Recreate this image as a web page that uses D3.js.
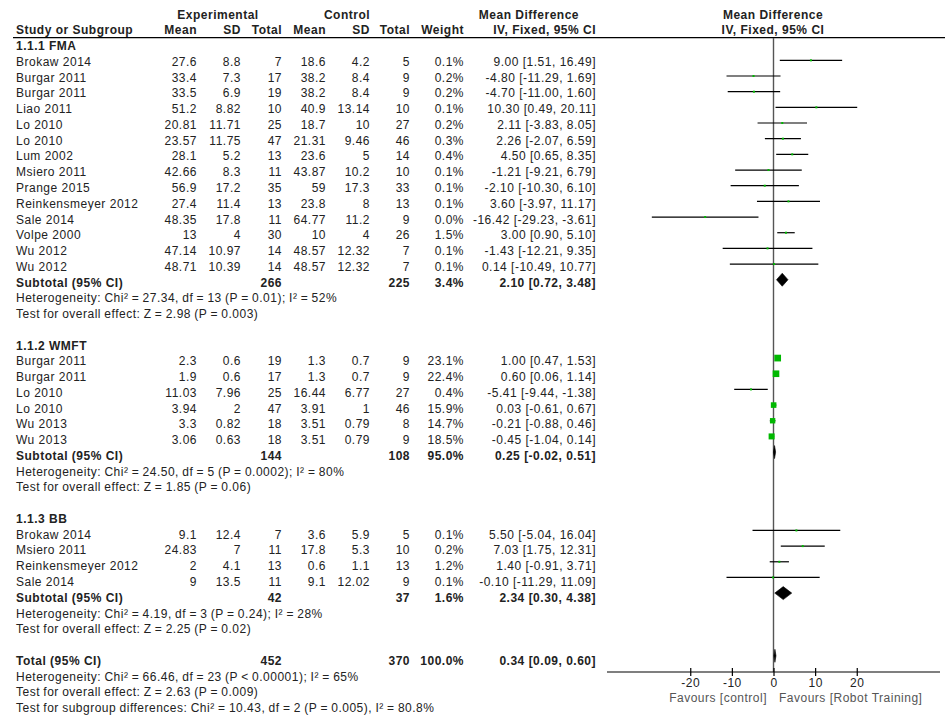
<!DOCTYPE html>
<html>
<head>
<meta charset="utf-8">
<script src="https://cdn.jsdelivr.net/npm/d3@7"></script>
<style>
  html, body { margin: 0; padding: 0; background: #fff; }
  svg text { font-family: "Liberation Sans", Arial, sans-serif; font-size: 12px; letter-spacing: 0.5px; fill: #222; }
  .b { font-weight: bold; }
  .n { word-spacing: -0.5px; }
</style>
</head>
<body>
<svg id="chart" width="945" height="717"></svg>
<script>
// ---------------- DATA ----------------
const groupNames = ["1.1.1 FMA", "1.1.2 WMFT", "1.1.3 BB"];
const studyGroup = [0,0,0,0,0,0,0,0,0,0,0,0,0,0, 1,1,1,1,1,1, 2,2,2,2];
const studyNames = ["Brokaw 2014","Burgar 2011","Burgar 2011","Liao 2011","Lo 2010","Lo 2010","Lum 2002","Msiero 2011","Prange 2015","Reinkensmeyer 2012","Sale 2014","Volpe 2000","Wu 2012","Wu 2012",
  "Burgar 2011","Burgar 2011","Lo 2010","Lo 2010","Wu 2013","Wu 2013",
  "Brokaw 2014","Msiero 2011","Reinkensmeyer 2012","Sale 2014"];
const expMean = [27.6,33.4,33.5,51.2,20.81,23.57,28.1,42.66,56.9,27.4,48.35,13,47.14,48.71, 2.3,1.9,11.03,3.94,3.3,3.06, 9.1,24.83,2,9];
const expSD   = [8.8,7.3,6.9,8.82,11.71,11.75,5.2,8.3,17.2,11.4,17.8,4,10.97,10.39, 0.6,0.6,7.96,2,0.82,0.63, 12.4,7,4.1,13.5];
const expN    = [7,17,19,10,25,47,13,11,35,13,11,30,14,14, 19,17,25,47,18,18, 7,11,13,11];
const ctlMean = [18.6,38.2,38.2,40.9,18.7,21.31,23.6,43.87,59,23.8,64.77,10,48.57,48.57, 1.3,1.3,16.44,3.91,3.51,3.51, 3.6,17.8,0.6,9.1];
const ctlSD   = [4.2,8.4,8.4,13.14,10,9.46,5,10.2,17.3,8,11.2,4,12.32,12.32, 0.7,0.7,6.77,1,0.79,0.79, 5.9,5.3,1.1,12.02];
const ctlN    = [5,9,9,10,27,46,14,10,33,13,9,26,7,7, 9,9,27,46,8,9, 5,10,13,9];
const weight  = [0.1,0.2,0.2,0.1,0.2,0.3,0.4,0.1,0.1,0.1,0.0,1.5,0.1,0.1, 23.1,22.4,0.4,15.9,14.7,18.5, 0.1,0.2,1.2,0.1];
const md      = [9.00,-4.80,-4.70,10.30,2.11,2.26,4.50,-1.21,-2.10,3.60,-16.42,3.00,-1.43,0.14, 1.00,0.60,-5.41,0.03,-0.21,-0.45, 5.50,7.03,1.40,-0.10];
const ciLow   = [1.51,-11.29,-11.00,0.49,-3.83,-2.07,0.65,-9.21,-10.30,-3.97,-29.23,0.90,-12.21,-10.49, 0.47,0.06,-9.44,-0.61,-0.88,-1.04, -5.04,1.75,-0.91,-11.29];
const ciHigh  = [16.49,1.69,1.60,20.11,8.05,6.59,8.35,6.79,6.10,11.17,-3.61,5.10,9.35,10.77, 1.53,1.14,-1.38,0.67,0.46,0.14, 16.04,12.31,3.71,11.09];

const subExpN   = [266,144,42];
const subCtlN   = [225,108,37];
const subWeight = [3.4,95.0,1.6];
const subMD     = [2.10,0.25,2.34];
const subLow    = [0.72,-0.02,0.30];
const subHigh   = [3.48,0.51,4.38];
const subHet    = ["Heterogeneity: Chi\u00b2 = 27.34, df = 13 (P = 0.01); I\u00b2 = 52%",
                   "Heterogeneity: Chi\u00b2 = 24.50, df = 5 (P = 0.0002); I\u00b2 = 80%",
                   "Heterogeneity: Chi\u00b2 = 4.19, df = 3 (P = 0.24); I\u00b2 = 28%"];
const subTest   = ["Test for overall effect: Z = 2.98 (P = 0.003)",
                   "Test for overall effect: Z = 1.85 (P = 0.06)",
                   "Test for overall effect: Z = 2.25 (P = 0.02)"];

const totalExpN = 452, totalCtlN = 370, totalWeight = 100.0;
const totalMD = 0.34, totalLow = 0.09, totalHigh = 0.60;
const totalNotes = ["Heterogeneity: Chi\u00b2 = 66.46, df = 23 (P < 0.00001); I\u00b2 = 65%",
                    "Test for overall effect: Z = 2.63 (P = 0.009)",
                    "Test for subgroup differences: Chi\u00b2 = 10.43, df = 2 (P = 0.005), I\u00b2 = 80.8%"];

const axisTicks = [-20, -10, 0, 10, 20];
const favLeft = "Favours [control]", favRight = "Favours [Robot Training]";

// ---------------- LAYOUT ----------------
const svg = d3.select("#chart");
svg.append("rect").attr("width", 945).attr("height", 717).attr("fill", "#fff");

const x = d3.scaleLinear().domain([-40, 40]).range([607, 940]);
const yText = d3.scaleLinear().domain([0, 1]).range([30.2, 30.2 + 15.76]);
const yMark = d3.scaleLinear().domain([0, 1]).range([29.0, 29.0 + 15.67]);

const col = { name: 16, eMean: 197, eSD: 241, eN: 282, cMean: 326, cSD: 370, cN: 410, w: 464, ci: 596 };
const fmt2 = d3.format(".2f");
const fmtCI = (m, l, h) => fmt2(m).replace("\u2212","-") + " [" + fmt2(l).replace("\u2212","-") + ", " + fmt2(h).replace("\u2212","-") + "]";
const fmtW = w => w.toFixed(1) + "%";

// build rows
const rows = [];
let k = 1;
groupNames.forEach((g, gi) => {
  rows.push({ k: k++, type: "group", label: g });
  studyNames.forEach((s, i) => {
    if (studyGroup[i] !== gi) return;
    rows.push({ k: k++, type: "study", i });
  });
  rows.push({ k: k++, type: "sub", gi });
  rows.push({ k: k++, type: "note", label: subHet[gi] });
  rows.push({ k: k++, type: "note", label: subTest[gi] });
  k++; // blank
});
rows.push({ k: k++, type: "total" });
totalNotes.forEach(t => rows.push({ k: k++, type: "note", label: t }));

function txt(xp, k, s, anchor, cls) {
  return svg.append("text").attr("x", xp).attr("y", yText(k)).attr("dy", "0.35em")
    .attr("text-anchor", anchor || "start").attr("class", cls || null).text(s);
}

// headers
txt(218, -1, "Experimental", "middle", "b");
txt(347, -1, "Control", "middle", "b");
txt(579, -1, "Mean Difference", "end", "b");
txt(773, -1, "Mean Difference", "middle", "b");
txt(col.name, 0, "Study or Subgroup", "start", "b");
txt(col.eMean, 0, "Mean", "end", "b");
txt(col.eSD, 0, "SD", "end", "b");
txt(col.eN, 0, "Total", "end", "b");
txt(col.cMean, 0, "Mean", "end", "b");
txt(col.cSD, 0, "SD", "end", "b");
txt(col.cN, 0, "Total", "end", "b");
txt(col.w, 0, "Weight", "end", "b");
txt(col.ci, 0, "IV, Fixed, 95% CI", "end", "b");
txt(773, 0, "IV, Fixed, 95% CI", "middle", "b");

svg.append("line").attr("x1", 13).attr("x2", 945).attr("y1", 37.7).attr("y2", 37.7)
  .attr("stroke", "#000").attr("stroke-width", 1.2);

// zero line
svg.append("line").attr("x1", x(0)).attr("x2", x(0)).attr("y1", 38).attr("y2", 672)
  .attr("stroke", "#555").attr("stroke-width", 1.4);

const plot = svg.append("g");

function diamond(k, m, l, h) {
  const yc = yMark(k), hh = 6.5;
  plot.append("path")
    .attr("d", `M${x(l)},${yc} L${x(m)},${yc - hh} L${x(h)},${yc} L${x(m)},${yc + hh} Z`)
    .attr("fill", "#000").attr("stroke", "#000").attr("stroke-width", 0.6);
}

rows.forEach(r => {
  if (r.type === "group") {
    txt(col.name, r.k, r.label, "start", "b");
  } else if (r.type === "study") {
    const i = r.i;
    txt(col.name, r.k, studyNames[i]);
    txt(col.eMean, r.k, String(expMean[i]), "end");
    txt(col.eSD, r.k, String(expSD[i]), "end");
    txt(col.eN, r.k, String(expN[i]), "end");
    txt(col.cMean, r.k, String(ctlMean[i]), "end");
    txt(col.cSD, r.k, String(ctlSD[i]), "end");
    txt(col.cN, r.k, String(ctlN[i]), "end");
    txt(col.w, r.k, fmtW(weight[i]), "end");
    txt(col.ci, r.k, fmtCI(md[i], ciLow[i], ciHigh[i]), "end");
    const yc = yMark(r.k);
    plot.append("line").attr("x1", x(ciLow[i])).attr("x2", x(ciHigh[i]))
      .attr("y1", yc).attr("y2", yc).attr("stroke", "#000").attr("stroke-width", 1.2);
    const s = Math.max(2, 1.4 * Math.sqrt(weight[i]));
    plot.append("rect").attr("x", x(md[i]) - s / 2).attr("y", yc - s / 2)
      .attr("width", s).attr("height", s).attr("fill", "#00b800");
  } else if (r.type === "sub") {
    const g = r.gi;
    txt(col.name, r.k, "Subtotal (95% CI)", "start", "b");
    txt(col.eN, r.k, String(subExpN[g]), "end", "b");
    txt(col.cN, r.k, String(subCtlN[g]), "end", "b");
    txt(col.w, r.k, fmtW(subWeight[g]), "end", "b");
    txt(col.ci, r.k, fmtCI(subMD[g], subLow[g], subHigh[g]), "end", "b");
    diamond(r.k, subMD[g], subLow[g], subHigh[g]);
  } else if (r.type === "note") {
    txt(col.name, r.k, r.label, "start", "n");
  } else if (r.type === "total") {
    txt(col.name, r.k, "Total (95% CI)", "start", "b");
    txt(col.eN, r.k, String(totalExpN), "end", "b");
    txt(col.cN, r.k, String(totalCtlN), "end", "b");
    txt(col.w, r.k, fmtW(totalWeight), "end", "b");
    txt(col.ci, r.k, fmtCI(totalMD, totalLow, totalHigh), "end", "b");
    diamond(r.k, totalMD, totalLow, totalHigh);
  }
});

// axis
const axisY = 672;
const ax = svg.append("g").attr("transform", `translate(0,${axisY})`);
ax.append("line").attr("x1", x.range()[0]).attr("x2", x.range()[1]).attr("y1", 0).attr("y2", 0)
  .attr("stroke", "#000").attr("stroke-width", 1.2);
const axisGen = d3.axisBottom(x).tickValues(axisTicks).tickSize(4).tickFormat(d3.format("d"));
const axG = ax.append("g").call(axisGen);
axG.select(".domain").remove();
axG.selectAll(".tick line").attr("y1", -4).attr("y2", 4).attr("stroke", "#000").attr("stroke-width", 1.2);
axG.selectAll(".tick text").attr("y", 11).attr("dy", "0.35em")
  .style("font-family", "'Liberation Sans', Arial, sans-serif").style("font-size", "12px")
  .style("letter-spacing", "0.5px").attr("fill", "#555")
  .text(d => String(d).replace("\u2212", "-"));

svg.append("text").attr("x", 767).attr("y", axisY + 26).attr("dy", "0.35em").attr("text-anchor", "end")
  .style("fill", "#555").text(favLeft);
svg.append("text").attr("x", 779).attr("y", axisY + 26).attr("dy", "0.35em").attr("text-anchor", "start")
  .style("fill", "#555").text(favRight);
</script>
</body>
</html>
